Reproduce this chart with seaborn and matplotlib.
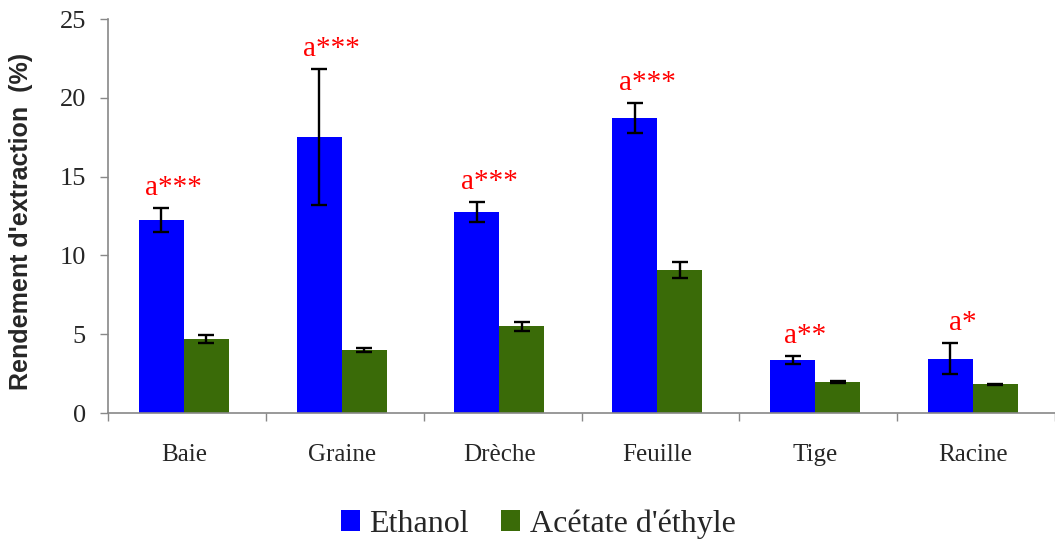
import numpy as np
import pandas as pd
import seaborn as sns
import matplotlib
matplotlib.use("Agg")
import matplotlib.pyplot as plt
from matplotlib.patches import Patch

categories = ["Baie", "Graine", "Drèche", "Feuille", "Tige", "Racine"]
series_names = ["Ethanol", "Acétate d'éthyle"]
ethanol = [12.25, 17.5, 12.75, 18.7, 3.35, 3.45]
ethanol_err = [0.75, 4.3, 0.63, 0.95, 0.27, 0.96]
acetate = [4.7, 4.0, 5.5, 9.05, 1.95, 1.82]
acetate_err = [0.25, 0.15, 0.3, 0.5, 0.05, 0.05]
annotations = ["a***", "a***", "a***", "a***", "a**", "a*"]
yticks = [0, 5, 10, 15, 20, 25]

colors = ["#0000FF", "#3A6B08"]

df = pd.DataFrame({
    "cat": categories * 2,
    "serie": [series_names[0]] * 6 + [series_names[1]] * 6,
    "val": ethanol + acetate,
})

sns.set_style("white")
plt.rcParams["font.family"] = ["Liberation Serif", "DejaVu Serif"]

fig = plt.figure(figsize=(10.55, 5.42), dpi=100)
ax = fig.add_axes([108 / 1055, 1 - 413 / 542, 1 - 108 / 1055, (413 - 19) / 542])

sns.barplot(data=df, x="cat", y="val", hue="serie", order=categories,
            hue_order=series_names, palette=colors, width=0.57, gap=0,
            errorbar=None, legend=False, ax=ax, saturation=1,
            edgecolor="none", linewidth=0)

# error bars from bar positions
n = len(categories)
patches = ax.patches[: 2 * n]
errs = ethanol_err + acetate_err
vals = ethanol + acetate
for p, v, e in zip(patches, vals, errs):
    xc = p.get_x() + p.get_width() / 2
    ax.errorbar(xc, v, yerr=e, fmt="none", ecolor="black", elinewidth=1.7,
                capsize=6, capthick=1.7, zorder=5)

# annotations
for i, (txt, v, e) in enumerate(zip(annotations, ethanol, ethanol_err)):
    p = patches[i]
    xc = p.get_x() + p.get_width() / 2
    ax.text(xc + 0.08, v + e + 0.45, txt, color="#FF0000", fontsize=21,
            ha="center", va="bottom")

ax.set_ylim(0, 25)
ax.set_xlim(-0.48, 5.47)
ax.set_yticks(yticks)
ax.set_yticklabels([str(t) for t in yticks], fontsize=19)
ax.tick_params(axis="y", direction="out", length=6, width=1, color="#888888",
               pad=10, left=True)
ax.tick_params(axis="x", which="major", length=0, pad=22, labelsize=18)
ax.set_xticks(np.arange(-0.48, 5.6, 1.0), minor=True)
ax.tick_params(axis="x", which="minor", direction="out", length=6, width=1,
               color="#888888", bottom=True)
ax.set_xlabel("")
ax.set_ylabel("Rendement d'extraction  (%)", fontsize=18, fontweight="bold",
              family="Liberation Sans")
ax.yaxis.set_label_coords(-0.079, 0.487)

sns.despine(ax=ax)
for s in ["left", "bottom"]:
    ax.spines[s].set_color("#888888")
    ax.spines[s].set_linewidth(1.2)

handles = [Patch(facecolor=c, edgecolor="none") for c in colors]
fig.legend(handles, series_names, loc="center", bbox_to_anchor=(0.51, 1 - 524 / 542),
           ncol=2, frameon=False, fontsize=23, handlelength=0.6, handleheight=0.6,
           handletextpad=0.3, columnspacing=1.0)

fig.savefig("out.png", dpi=100)
